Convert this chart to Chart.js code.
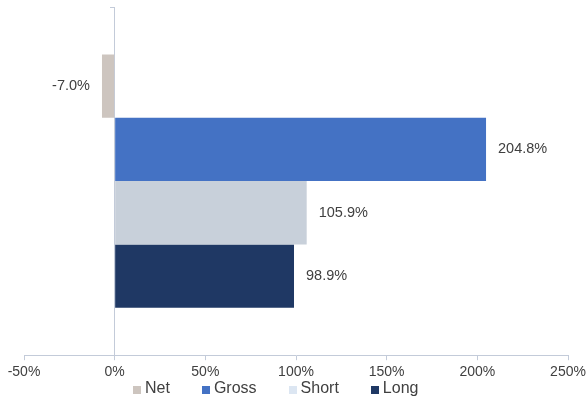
<!DOCTYPE html>
<html>
<head>
<meta charset="utf-8">
<script src="https://cdn.jsdelivr.net/npm/chart.js@4/dist/chart.umd.min.js"></script>
<style>
  html, body { margin: 0; padding: 0; background: #fff; }
  #wrap { position: relative; width: 587px; height: 400px; }
  #legend {
    position: absolute; left: 133px; top: 379px;
    display: flex; gap: 32px;
    font: 16px "Liberation Sans", Arial, sans-serif; color: #404040;
  }
  #legend span.item { display: flex; align-items: center; }
  #legend span.box { display: inline-block; width: 8px; height: 8px; margin-right: 4px; margin-top: 4px; }
</style>
</head>
<body>
<div id="wrap"><canvas id="chart"></canvas><div id="legend"></div></div>
<script>
const categories = [''];
const seriesNames = ['Net', 'Gross', 'Short', 'Long'];
const netValues = [-7.0];
const grossValues = [204.8];
const shortValues = [105.9];
const longValues = [98.9];
const xTicks = [-50, 0, 50, 100, 150, 200, 250];

const barColors = ['#cdc5bf', '#4472c4', '#c8d0da', '#1f3864'];
const legendColors = ['#cdc5bf', '#4472c4', '#dce6f2', '#1f3864'];
const axisColor = '#c3cbd9';
const textColor = '#404040';

const valueLabels = {
  id: 'valueLabels',
  afterDatasetsDraw(chart) {
    const ctx = chart.ctx;
    ctx.save();
    ctx.font = '14.5px "Liberation Sans", Arial, sans-serif';
    ctx.fillStyle = textColor;
    ctx.textBaseline = 'middle';
    chart.data.datasets.forEach((ds, i) => {
      chart.getDatasetMeta(i).data.forEach((bar, j) => {
        const v = ds.data[j];
        const txt = v.toFixed(1) + '%';
        if (v < 0) {
          ctx.textAlign = 'right';
          ctx.fillText(txt, bar.x - 12, bar.y);
        } else {
          ctx.textAlign = 'left';
          ctx.fillText(txt, bar.x + 12, bar.y);
        }
      });
    });
    ctx.restore();
  }
};

const seriesData = [netValues, grossValues, shortValues, longValues];

new Chart(document.getElementById('chart'), {
  type: 'bar',
  data: {
    labels: categories,
    datasets: seriesNames.map((name, i) => ({
      label: name,
      data: seriesData[i],
      backgroundColor: barColors[i],
      categoryPercentage: 0.727,
      barPercentage: 1.0
    }))
  },
  options: {
    indexAxis: 'y',
    responsive: true,
    maintainAspectRatio: false,
    animation: false,
    layout: { padding: { left: 24, right: 19, top: 7, bottom: 15 } },
    scales: {
      x: {
        min: -50,
        max: 250,
        afterBuildTicks: axis => { axis.ticks = xTicks.map(v => ({ value: v })); },
        afterFit: axis => { axis.paddingLeft = 0; axis.paddingRight = 0; },
        border: { display: true, color: axisColor },
        grid: {
          drawOnChartArea: false,
          tickColor: axisColor,
          tickLength: 5
        },
        ticks: {
          color: textColor,
          font: { family: '"Liberation Sans", Arial, sans-serif', size: 14 },
          padding: 4,
          maxRotation: 0,
          callback: v => v + '%'
        }
      },
      y: {
        position: { x: 0 },
        border: { display: true, color: axisColor },
        grid: {
          drawOnChartArea: false,
          tickColor: axisColor,
          tickLength: 4
        },
        ticks: { display: false }
      }
    },
    plugins: {
      legend: { display: false },
      tooltip: { enabled: false }
    }
  },
  plugins: [valueLabels]
});

const legend = document.getElementById('legend');
seriesNames.forEach((name, i) => {
  const item = document.createElement('span');
  item.className = 'item';
  const box = document.createElement('span');
  box.className = 'box';
  box.style.background = legendColors[i];
  item.appendChild(box);
  item.appendChild(document.createTextNode(name));
  legend.appendChild(item);
});
</script>
</body>
</html>
